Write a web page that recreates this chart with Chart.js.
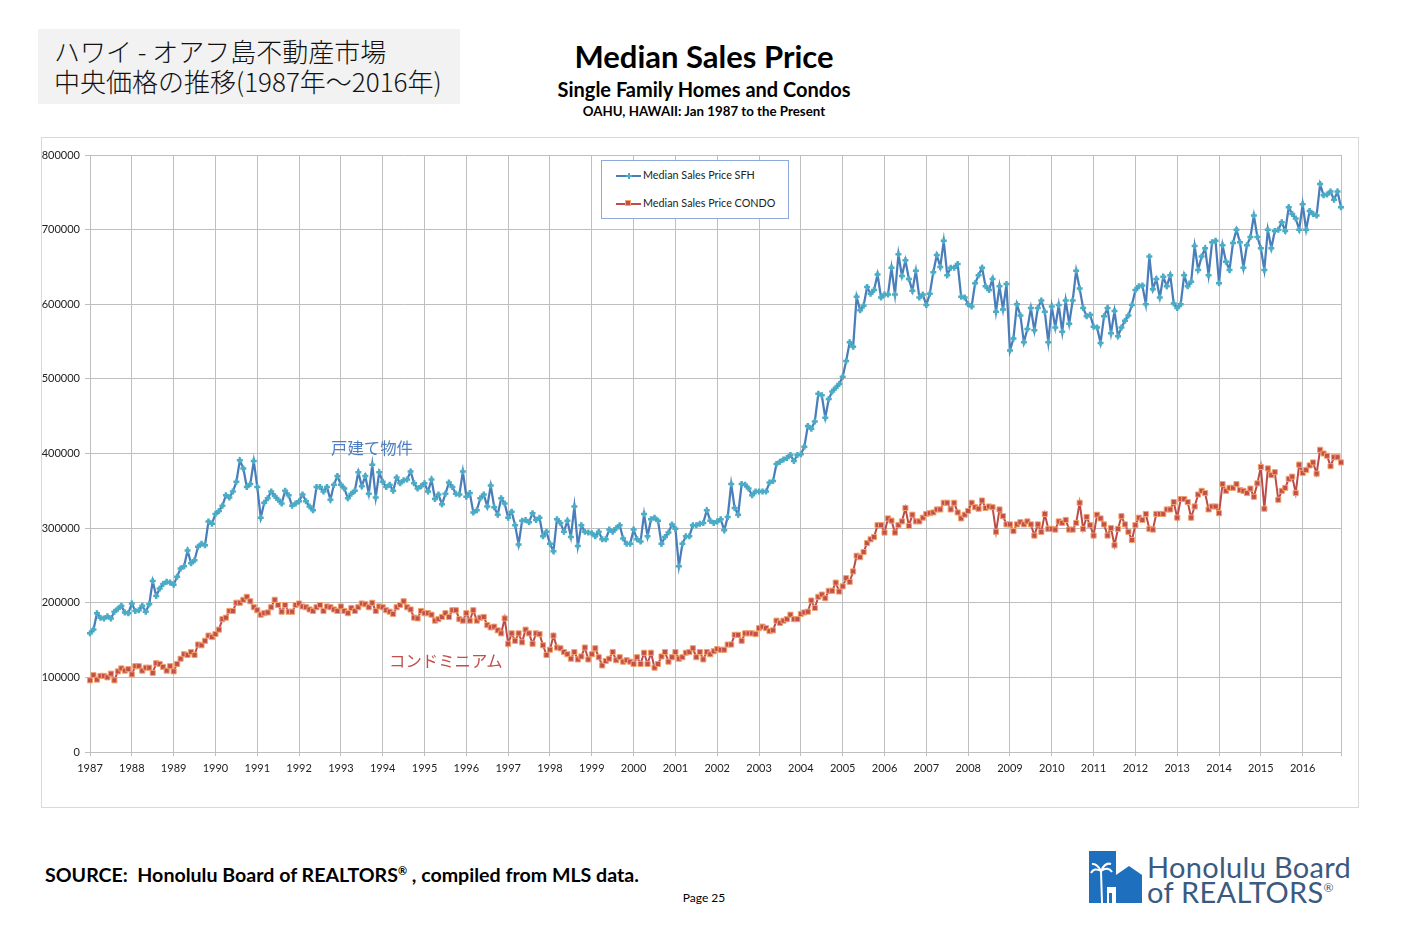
<!DOCTYPE html>
<html lang="ja">
<head>
<meta charset="utf-8">
<title>Median Sales Price - Oahu</title>
<script src="https://cdn.jsdelivr.net/npm/chart.js@4.4.1/dist/chart.umd.min.js"></script>
<style>
  html, body { margin: 0; padding: 0; background: #fff; }
  body { width: 1405px; height: 934px; position: relative; overflow: hidden; font-family: Lato, "Open Sans", sans-serif; color: #000; }
  .abs { position: absolute; white-space: nowrap; }
  .jp { font-family: "Noto Sans CJK JP", sans-serif; font-weight: 300; }
  #jp-title { left: 38px; top: 29px; width: 422px; height: 75px; background: #f2f2f2; }
  #jp-title div { position: absolute; left: 16px; font-size: 26px; line-height: 30px; color: #111; }
  #chart-frame { left: 41px; top: 137px; width: 1316px; height: 669px; border: 1px solid #d9d9d9; }
  #chart-wrap { left: 41px; top: 137px; width: 1318px; height: 671px; }
  #legend { left: 601px; top: 160px; width: 186px; height: 57px; border: 1px solid #8eaadb; background: #fff; font-size: 10.8px; color: #222; }
  #legend .ln { position: absolute; left: 14px; width: 25px; height: 2px; }
  #legend .txt { position: absolute; left: 41px; line-height: 12px; }
  .logo-txt { font-size: 29px; line-height: 29px; color: #3b5a80; letter-spacing: 0.3px; }
</style>
</head>
<body>

<div id="jp-title" class="abs jp">
  <div style="top:7px;">ハワイ - オアフ島不動産市場</div>
  <div style="top:37px;">中央価格の推移(1987年～2016年)</div>
</div>

<div class="abs" style="left:404px; top:38px; width:600px; text-align:center; font-size:31px; line-height:36px; font-weight:700;">Median Sales Price</div>
<div class="abs" style="left:404px; top:78px; width:600px; text-align:center; font-size:20px; line-height:22px; font-weight:700;">Single Family Homes and Condos</div>
<div class="abs" style="left:404px; top:103px; width:600px; text-align:center; font-size:13.3px; line-height:16px; font-weight:700;">OAHU, HAWAII: Jan 1987 to the Present</div>

<div id="chart-frame" class="abs"></div>
<div id="chart-wrap" class="abs"><canvas id="priceChart"></canvas></div>

<div id="legend" class="abs">
  <div class="ln" style="top:14px; background:#4a7ebb;"></div>
  <div style="position:absolute; left:24px; top:14px; width:6px; height:2px; background:#4bacc6;"></div>
  <div style="position:absolute; left:26px; top:12px; width:2px; height:6px; background:#4bacc6;"></div>
  <div class="txt" style="top:8px;">Median Sales Price SFH</div>
  <div class="ln" style="top:42px; background:#be4b48;"></div>
  <div style="position:absolute; left:23px; top:39px; width:6px; height:6px; background:#c0504d; border:1px solid #f4a26b; box-sizing:border-box;"></div>
  <div class="txt" style="top:36px;">Median Sales Price CONDO</div>
</div>

<div class="abs jp" style="left:331px; top:437px; font-size:16.4px; line-height:20px; color:#4f7fc0; font-weight:400;">戸建て物件</div>
<div class="abs jp" style="left:389px; top:650px; font-size:16.4px; line-height:20px; color:#c0504d; font-weight:400;">コンドミニアム</div>

<div class="abs" style="left:45px; top:862px; font-size:19.6px; line-height:26px; font-weight:700;">SOURCE:&nbsp; Honolulu Board of REALTORS<span style="font-size:11px; position:relative; top:-7px;">®</span> , compiled from MLS data.</div>
<div class="abs" style="left:654px; top:890px; width:100px; text-align:center; font-size:12px; line-height:16px;">Page 25</div>

<div class="abs" style="left:1089px; top:849px; width:56px; height:56px;">
  <svg width="56" height="56" viewBox="0 0 56 56">
    <rect x="0" y="2" width="27" height="52" fill="#1e6fbd"/>
    <polygon points="27,54 27,26 40,17 53,26 53,54" fill="#1e6fbd"/>
    <path d="M13 54 L12 22" stroke="#fff" stroke-width="2" fill="none"/>
    <path d="M12 22 Q5 18 2 24 M12 22 Q19 17 23 23 M12 22 Q8 14 3 15 M12 22 Q16 13 22 15" stroke="#fff" stroke-width="2" fill="none"/>
    <rect x="18" y="38" width="9" height="16" fill="#fff"/>
    <rect x="20" y="44" width="3" height="10" fill="#1e6fbd"/>
  </svg>
</div>
<div class="abs logo-txt" style="left:1147px; top:852px;">Honolulu Board</div>
<div class="abs logo-txt" style="left:1147px; top:877px;">of REALTORS<span style="font-size:12px; position:relative; top:-11px;">®</span></div>

<script>
  // tick labels (one per year, Jan 1987 .. Dec 2016, monthly points)
  var years = ['1987', '1988', '1989', '1990', '1991', '1992', '1993', '1994', '1995', '1996',
               '1997', '1998', '1999', '2000', '2001', '2002', '2003', '2004', '2005', '2006',
               '2007', '2008', '2009', '2010', '2011', '2012', '2013', '2014', '2015', '2016'];
  var monthNames = ['01', '02', '03', '04', '05', '06', '07', '08', '09', '10', '11', '12'];

  var yMax = 800000;
  var yStep = 100000;

  // Median Sales Price SFH (monthly)
  var sfhPrice = [
    159000,164000,186000,180000,179000,182000,179000,188000,192000,196000,187000,186000,
    199000,189000,190000,196000,188000,198000,229000,209000,219000,225000,228000,227000,
    224000,235000,246000,249000,270000,253000,257000,275000,279000,277000,309000,306000,
    319000,323000,330000,344000,341000,349000,362000,391000,380000,355000,359000,390000,
    355000,314000,334000,340000,349000,343000,338000,333000,350000,344000,330000,333000,
    336000,345000,336000,329000,324000,355000,355000,349000,355000,338000,358000,370000,
    358000,353000,340000,346000,350000,375000,356000,370000,346000,385000,341000,375000,
    362000,355000,358000,350000,368000,360000,364000,365000,376000,360000,353000,356000,
    360000,349000,365000,339000,345000,332000,346000,361000,355000,346000,345000,376000,
    342000,347000,321000,324000,340000,345000,329000,357000,328000,318000,340000,333000,
    314000,322000,304000,278000,310000,311000,308000,320000,311000,314000,289000,295000,
    279000,269000,312000,307000,295000,310000,288000,329000,276000,304000,295000,294000,
    293000,289000,295000,285000,285000,298000,295000,300000,304000,286000,279000,279000,
    298000,285000,282000,319000,289000,312000,314000,310000,279000,288000,294000,305000,
    299000,249000,279000,289000,289000,304000,304000,306000,307000,324000,310000,307000,
    309000,312000,297000,315000,359000,327000,318000,359000,358000,353000,344000,349000,
    349000,349000,349000,361000,363000,386000,389000,392000,394000,398000,390000,398000,
    399000,409000,437000,433000,443000,480000,478000,448000,473000,483000,488000,493000,
    503000,524000,549000,543000,610000,592000,598000,623000,614000,619000,640000,609000,
    613000,613000,649000,613000,667000,638000,659000,634000,618000,645000,609000,613000,
    599000,614000,643000,666000,650000,685000,639000,649000,649000,654000,610000,609000,
    600000,597000,628000,639000,649000,624000,619000,634000,590000,624000,593000,627000,
    538000,554000,600000,585000,549000,567000,595000,565000,595000,605000,590000,549000,
    597000,569000,599000,563000,605000,574000,605000,645000,621000,595000,584000,586000,
    570000,569000,548000,584000,595000,561000,591000,557000,569000,578000,585000,599000,
    619000,624000,625000,600000,664000,620000,634000,609000,637000,624000,639000,601000,
    595000,600000,639000,624000,630000,678000,646000,664000,675000,639000,683000,685000,
    628000,679000,657000,646000,682000,700000,683000,649000,679000,690000,719000,690000,
    675000,646000,700000,675000,698000,700000,710000,698000,730000,721000,715000,700000,
    734000,700000,725000,721000,719000,761000,746000,747000,751000,740000,751000,730000
  ];

  // Median Sales Price CONDO (monthly)
  var condoPrice = [
    96000,103000,97000,102000,102000,100000,105000,96000,108000,112000,109000,111000,
    104000,115000,115000,109000,113000,113000,106000,119000,118000,114000,109000,115000,
    108000,118000,125000,131000,130000,134000,130000,144000,143000,149000,156000,154000,
    158000,164000,178000,180000,189000,189000,200000,200000,204000,208000,202000,194000,
    190000,184000,186000,187000,194000,204000,197000,188000,197000,188000,188000,197000,
    199000,195000,194000,191000,189000,194000,197000,189000,195000,194000,191000,189000,
    195000,189000,186000,193000,189000,194000,199000,198000,194000,200000,189000,195000,
    194000,190000,188000,185000,194000,197000,202000,194000,191000,180000,179000,189000,
    186000,186000,184000,176000,178000,181000,186000,181000,190000,190000,178000,176000,
    186000,176000,190000,176000,180000,181000,170000,167000,168000,163000,159000,179000,
    145000,159000,149000,159000,147000,164000,159000,145000,159000,158000,143000,130000,
    137000,156000,140000,139000,134000,131000,125000,134000,124000,128000,140000,124000,
    131000,139000,127000,116000,122000,125000,134000,123000,127000,121000,123000,121000,
    118000,127000,118000,133000,118000,133000,113000,118000,128000,134000,121000,127000,
    134000,125000,127000,133000,134000,139000,127000,134000,124000,134000,131000,135000,
    138000,137000,137000,144000,144000,157000,157000,149000,159000,159000,159000,158000,
    166000,168000,166000,162000,163000,176000,173000,176000,178000,184000,178000,178000,
    185000,187000,188000,203000,193000,208000,211000,206000,216000,216000,227000,215000,
    222000,233000,228000,242000,263000,261000,268000,280000,285000,288000,304000,304000,
    294000,313000,310000,294000,304000,309000,327000,303000,318000,309000,309000,314000,
    319000,320000,321000,325000,325000,334000,334000,325000,334000,321000,313000,318000,
    323000,334000,328000,326000,337000,327000,329000,328000,295000,325000,316000,305000,
    305000,296000,305000,308000,305000,309000,305000,290000,305000,295000,319000,299000,
    299000,298000,309000,307000,311000,298000,298000,307000,334000,299000,315000,304000,
    290000,318000,313000,305000,290000,300000,277000,299000,316000,305000,295000,284000,
    304000,314000,311000,319000,299000,298000,319000,319000,319000,325000,325000,335000,
    314000,339000,339000,335000,314000,329000,345000,350000,347000,325000,329000,329000,
    320000,359000,350000,354000,354000,359000,351000,350000,347000,353000,342000,360000,
    382000,326000,380000,371000,375000,338000,350000,354000,366000,369000,347000,385000,
    374000,378000,384000,388000,373000,405000,400000,397000,383000,395000,395000,388000
  ];

  var labels = [];
  years.forEach(function (y) {
    monthNames.forEach(function (m) { labels.push(y + '-' + m); });
  });

  var GRID = '#bfbfbf';
  var TICK_FONT = { family: 'Lato, "Open Sans", sans-serif', size: 11 };

  new Chart(document.getElementById('priceChart'), {
    type: 'line',
    data: {
      labels: labels,
      datasets: [{
        label: 'Median Sales Price SFH',
        data: sfhPrice,
        borderColor: '#4a7ebb',
        borderWidth: 2.25,
        pointStyle: 'cross',
        pointRadius: 3,
        pointBorderWidth: 2.5,
        pointBorderColor: '#4bacc6',
        pointBackgroundColor: '#4bacc6',
        tension: 0
      }, {
        label: 'Median Sales Price CONDO',
        data: condoPrice,
        borderColor: '#be4b48',
        borderWidth: 2,
        pointStyle: 'rect',
        pointRadius: 3.6,
        pointBorderWidth: 1,
        pointBorderColor: '#f4a26b',
        pointBackgroundColor: '#c0504d',
        tension: 0
      }]
    },
    options: {
      responsive: true,
      maintainAspectRatio: false,
      animation: false,
      events: [],
      layout: { padding: { top: 18, right: 18, left: 0, bottom: 0 } },
      plugins: {
        legend: { display: false },
        tooltip: { enabled: false }
      },
      scales: {
        x: {
          type: 'category',
          offset: false,
          afterFit: function (scale) { scale.height = 56; },
          grid: {
            color: function (c) { return (c.index % 12 === 0 || c.index === labels.length - 1) ? GRID : 'rgba(0,0,0,0)'; },
            lineWidth: 1,
            tickLength: 4
          },
          border: { display: true, color: GRID },
          ticks: {
            autoSkip: false,
            maxRotation: 0,
            minRotation: 0,
            padding: 6,
            color: '#222',
            font: TICK_FONT,
            callback: function (v, i) { return i % 12 === 0 ? years[i / 12] : ''; }
          }
        },
        y: {
          min: 0,
          max: yMax,
          afterFit: function (scale) { scale.width = 49; },
          grid: { color: GRID, lineWidth: 1, tickLength: 5 },
          border: { display: true, color: GRID },
          ticks: {
            stepSize: yStep,
            padding: 5,
            color: '#222',
            font: TICK_FONT,
            callback: function (v) { return String(v); }
          }
        }
      }
    }
  });
</script>
</body>
</html>
